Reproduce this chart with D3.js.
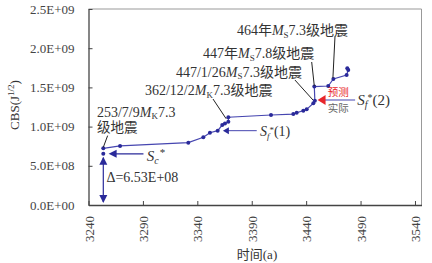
<!DOCTYPE html>
<html><head><meta charset="utf-8">
<script src="https://cdn.jsdelivr.net/npm/d3@7"></script>
<style>
body{margin:0;background:#fff;}
text{font-family:"Liberation Serif","Noto Sans CJK SC",serif;fill:#333;}
</style></head>
<body><svg id="c" width="432" height="263"></svg>
<script>
// ---- data ----
const years = [3253.6, 3269, 3331.7, 3345.5, 3351.6, 3358.7, 3362.9, 3365.4, 3368.5, 3368.5, 3407.7, 3428.2, 3431.3, 3437.4, 3440.5, 3446.6, 3448, 3447.5, 3460.3, 3465, 3477.2, 3478.7, 3477.8];
const cbs = [0.723e9, 0.753e9, 0.795e9, 0.864e9, 0.922e9, 0.948e9, 1.02e9, 1.04e9, 1.063e9, 1.119e9, 1.148e9, 1.16e9, 1.177e9, 1.203e9, 1.22e9, 1.297e9, 1.33e9, 1.51e9, 1.518e9, 1.607e9, 1.658e9, 1.722e9, 1.744e9];
const xTicks = [3240, 3290, 3340, 3390, 3440, 3490, 3540];
const yTicks = [0, 5e8, 1e9, 1.5e9, 2e9, 2.5e9];
const yTickLabels = ["0.0E+00", "5.0E+08", "1.0E+09", "1.5E+09", "2.0E+09", "2.5E+09"];
const scYear = 3253.6, scValue = 6.53e8;
const sf1Value = 0.948e9, sf2Value = 1.339e9;

const svg = d3.select("#c");
const L = 88.5, R = 421.5, T = 9, B = 205;
const x = d3.scaleLinear().domain([3240, 3546]).range([L, R]);
const y = d3.scaleLinear().domain([0, 2.5e9]).range([B, T]);
const blue = "#2a2a9a", lineBlue = "#4646b0";

// frame
svg.append("path").attr("d", `M${L},${T}H${R}V${B}`).attr("fill", "none").attr("stroke", "#999").attr("stroke-width", 1);

// axes
const xAxis = svg.append("g").attr("transform", `translate(0,${B})`)
  .call(d3.axisBottom(x).tickValues(xTicks).tickSize(-4).tickSizeOuter(0).tickFormat(d3.format("d")));
xAxis.select(".domain").attr("stroke", "#444").attr("stroke-width", 1.3);
xAxis.selectAll(".tick line").attr("stroke", "#444");
xAxis.selectAll(".tick text").attr("transform", "translate(0,11) rotate(-90)").attr("text-anchor", "end")
  .attr("x", 0).attr("y", 0).attr("dy", "0.35em").style("font-size", "13px").style("fill", "#444");

const yAxis = svg.append("g").attr("transform", `translate(${L},0)`)
  .call(d3.axisLeft(y).tickValues(yTicks).tickSize(-4).tickSizeOuter(0).tickFormat((d, i) => yTickLabels[i]));
yAxis.select(".domain").attr("stroke", "#444").attr("stroke-width", 1.3);
yAxis.selectAll(".tick line").attr("stroke", "#444");
yAxis.selectAll(".tick text").attr("x", -14).style("font-size", "13px").style("fill", "#444");

// axis titles
svg.append("text").attr("x", 257).attr("y", 259).attr("text-anchor", "middle").style("font-size", "13px").text("时间(a)");
const yl = svg.append("text").attr("transform", "translate(19,105) rotate(-90)").attr("text-anchor", "middle").style("font-size", "13px");
yl.append("tspan").text("CBS(J");
yl.append("tspan").attr("dy", -5).style("font-size", "9px").text("1/2");
yl.append("tspan").attr("dy", 5).text(")");

// series
const pts = years.map((d, i) => [d, cbs[i]]);
svg.append("path").datum(pts).attr("fill", "none").attr("stroke", lineBlue).attr("stroke-width", 1.2)
  .attr("d", d3.line().x(d => x(d[0])).y(d => y(d[1])));
svg.selectAll("circle.p").data(pts).join("circle").attr("class", "p")
  .attr("cx", d => x(d[0])).attr("cy", d => y(d[1])).attr("r", 2).attr("fill", blue);
svg.append("circle").attr("cx", x(scYear)).attr("cy", y(scValue)).attr("r", 2).attr("fill", blue);

// arrow helpers
function tri(tx, ty, dir, color, len = 7, half = 4) {
  let p;
  if (dir === "left") p = [[tx, ty], [tx + len, ty - half], [tx + len, ty + half]];
  if (dir === "up") p = [[tx, ty], [tx - half, ty + len], [tx + half, ty + len]];
  if (dir === "down") p = [[tx, ty], [tx - half, ty - len], [tx + half, ty - len]];
  svg.append("polygon").attr("points", p.map(q => q.join(",")).join(" ")).attr("fill", color);
}

// Delta arrow
svg.append("line").attr("x1", x(scYear)).attr("x2", x(scYear)).attr("y1", y(scValue) + 4).attr("y2", y(0) - 3)
  .attr("stroke", blue).attr("stroke-width", 1.2);
tri(x(scYear), y(scValue) + 3, "up", blue, 8, 4);
tri(x(scYear), y(0) - 2, "down", blue, 8, 4);
svg.append("text").attr("x", x(3256.5)).attr("y", y(2.9e8)).style("font-size", "14px").text("Δ=6.53E+08");

// Sc* arrow
svg.append("line").attr("x1", x(3261)).attr("x2", x(3290.5)).attr("y1", y(scValue)).attr("y2", y(scValue)).attr("stroke", blue).attr("stroke-width", 1.2);
tri(x(3258.5), y(scValue), "left", blue, 8, 4);
const sc = svg.append("text").attr("x", x(3293.5)).attr("y", y(scValue) + 7).style("font-size", "15px");
sc.append("tspan").style("font-style", "italic").text("S");
sc.append("tspan").attr("dy", 3).style("font-style", "italic").style("font-size", "10px").text("c");
sc.append("tspan").attr("dy", -8).attr("dx", 1).style("font-size", "11px").text("*");

// Sf*(1) arrow
svg.append("line").attr("x1", x(3366)).attr("x2", x(3394.6)).attr("y1", y(sf1Value)).attr("y2", y(sf1Value)).attr("stroke", lineBlue).attr("stroke-width", 1);
tri(x(3363.5), y(sf1Value), "left", blue, 6, 3.5);
const s1 = svg.append("text").attr("x", x(3397.5)).attr("y", y(sf1Value) + 5).style("font-size", "14px");
s1.append("tspan").style("font-style", "italic").text("S");
s1.append("tspan").attr("dy", 3).style("font-style", "italic").style("font-size", "9px").text("f");
s1.append("tspan").attr("dy", -6).style("font-size", "9px").text("*");
s1.append("tspan").attr("dy", 3).text("(1)");

// Sf*(2) arrow
svg.append("line").attr("x1", x(3456)).attr("x2", x(3485)).attr("y1", y(sf2Value)).attr("y2", y(sf2Value)).attr("stroke", lineBlue).attr("stroke-width", 1.2);
tri(x(3450.5), y(sf2Value), "left", "#e8262a", 8, 5);
svg.append("text").attr("x", x(3469.5)).attr("y", y(sf2Value) - 4).attr("text-anchor", "middle").style("font-size", "10.5px").style("fill", "#e8262a").text("预测");
svg.append("text").attr("x", x(3469.5)).attr("y", y(sf2Value) + 12).attr("text-anchor", "middle").style("font-size", "10.5px").style("fill", "#666").text("实际");
const s2 = svg.append("text").attr("x", x(3487)).attr("y", y(sf2Value) + 5).style("font-size", "15px");
s2.append("tspan").style("font-style", "italic").text("S");
s2.append("tspan").attr("dy", 3).style("font-style", "italic").style("font-size", "10px").text("f");
s2.append("tspan").attr("dy", -7).style("font-size", "10px").text("*");
s2.append("tspan").attr("dy", 4).text("(2)");

// earthquake annotations
const notes = [
  {x: 3247.8, y: 1.123e9, pre: "253/7/9", sub: "K", post: "7.3", tail: ""},
  {x: 3291.9, y: 1.403e9, pre: "362/12/2", sub: "K", post: "7.3", tail: "级地震"},
  {x: 3320.4, y: 1.633e9, pre: "447/1/26", sub: "S", post: "7.3", tail: "级地震"},
  {x: 3345.2, y: 1.875e9, pre: "447年", sub: "S", post: "7.8", tail: "级地震"},
  {x: 3376.4, y: 2.168e9, pre: "464年", sub: "S", post: "7.3", tail: "级地震"}
];
notes.forEach(n => {
  const t = svg.append("text").attr("x", x(n.x)).attr("y", y(n.y)).style("font-size", "14px");
  t.append("tspan").text(n.pre);
  t.append("tspan").style("font-style", "italic").text("M");
  t.append("tspan").attr("dy", 2.5).style("font-size", "9px").text(n.sub);
  t.append("tspan").attr("dy", -2.5).text(n.post + n.tail);
});
svg.append("text").attr("x", x(3247.8)).attr("y", y(0.932e9)).style("font-size", "13.5px").text("级地震");

const leaders = [
  [[3257.6, 0.885e9], [3253.6, 0.736e9]],
  [[3354.4, 1.352e9], [3366.5, 1.10e9]],
  [[3429.7, 1.594e9], [3446.3, 1.339e9]],
  [[3445.1, 1.824e9], [3447.5, 1.518e9]],
  [[3466.5, 2.150e9], [3464.6, 1.62e9]]
];
leaders.forEach(l => svg.append("line").attr("x1", x(l[0][0])).attr("y1", y(l[0][1])).attr("x2", x(l[1][0])).attr("y2", y(l[1][1]))
  .attr("stroke", "#222").attr("stroke-width", 1));
</script></body></html>
